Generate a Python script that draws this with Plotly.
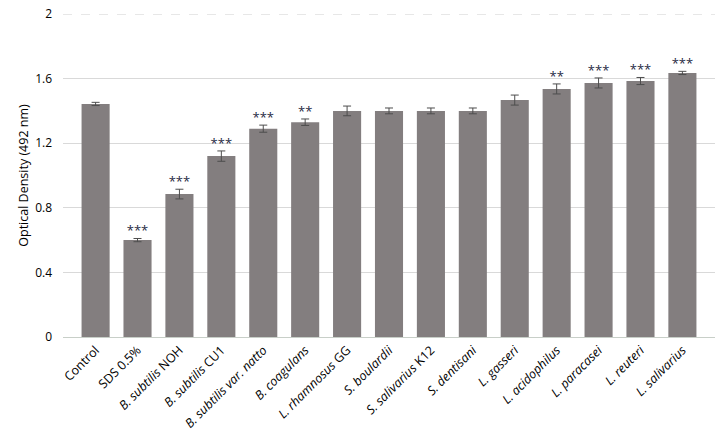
import plotly.graph_objects as go

categories = ["Control", "SDS 0.5%", "<i>B. subtilis</i> NOH", "<i>B. subtilis</i> CU1",
              "<i>B. subtilis var. natto</i>", "<i>B. coagulans</i>", "<i>L. rhamnosus</i> GG",
              "<i>S. boulardii</i>", "<i>S. salivarius</i> K12", "<i>S. dentisani</i>",
              "<i>L. gasseri</i>", "<i>L. acidophilus</i>", "<i>L. paracasei</i>",
              "<i>L. reuteri</i>", "<i>L. salivarius</i>"]
values = [1.443, 0.600, 0.885, 1.12, 1.29, 1.33, 1.40, 1.40, 1.40, 1.40,
          1.467, 1.536, 1.573, 1.585, 1.635]
errors = [0.010, 0.010, 0.030, 0.032, 0.022, 0.020, 0.030, 0.018, 0.018, 0.018,
          0.031, 0.031, 0.031, 0.022, 0.010]
significance = ["", "***", "***", "***", "***", "**", "", "", "", "",
                "", "**", "***", "***", "***"]
y_ticks = [0, 0.4, 0.8, 1.2, 1.6, 2]
y_tick_labels = ["0", "0.4", "0.8", "1.2", "1.6", "2"]

fig = go.Figure()
fig.add_trace(go.Bar(
    x=categories, y=values,
    marker=dict(color="#837e7f", line=dict(width=0)),
    width=0.67,
    error_y=dict(type="data", array=errors, color="#4d4d4d", thickness=1, width=4),
    showlegend=False,
))
fig.add_trace(go.Scatter(
    x=categories, y=[v + e for v, e in zip(values, errors)],
    mode="text", text=significance, textposition="top center",
    textfont=dict(family="Open Sans, sans-serif", size=13, color="#1f2a44"),
    showlegend=False, cliponaxis=False,
))
fig.add_shape(type="line", xref="paper", yref="y", x0=0, x1=1, y0=2, y1=2,
              line=dict(color="#d0d0d0", width=1, dash="dash"), layer="below")

fig.update_layout(
    width=727, height=440,
    margin=dict(l=63, r=12, t=14, b=103),
    plot_bgcolor="white", paper_bgcolor="white",
    font=dict(family="Open Sans, sans-serif", size=12, color="black"),
)
fig.update_xaxes(
    tickangle=-45, tickfont=dict(size=12.5), showgrid=False, automargin=False,
    showline=True, linecolor="#c8cfc8", linewidth=1, ticks="",
)
fig.update_yaxes(
    range=[0, 2], tickvals=y_ticks, ticktext=y_tick_labels, automargin=False,
    tickfont=dict(size=12), ticklabelstandoff=10,
    showgrid=True, gridcolor="#d9d9d9", gridwidth=1, zeroline=False,
    showline=False, ticks="", ticklen=0,
    title=dict(text="Optical Density (492 nm)", font=dict(size=12.5), standoff=3),
)
fig.write_html("out.html", config={"displayModeBar": False},
               post_script="document.body.style.margin='0';")
